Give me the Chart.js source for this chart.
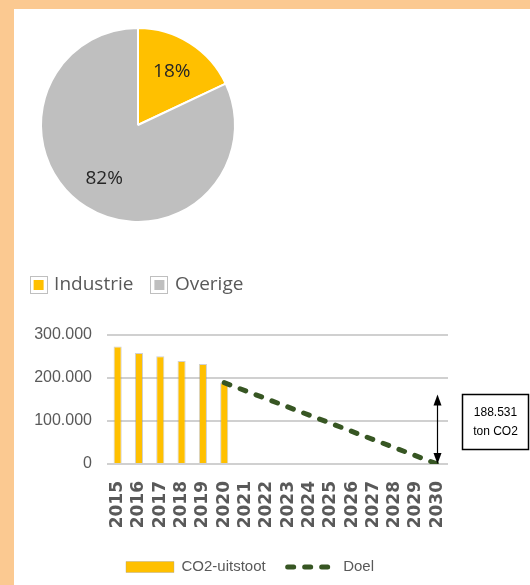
<!DOCTYPE html>
<html>
<head>
<meta charset="utf-8">
<script src="https://cdn.jsdelivr.net/npm/chart.js@4.4.1/dist/chart.umd.min.js"></script>
<style>
  html, body { margin: 0; padding: 0; width: 530px; height: 585px; overflow: hidden; background: #fff; }
  .band { position: absolute; background: #FBC991; }
  #pie { position: absolute; left: 0; top: 0; }
  #bar { position: absolute; left: 14px; top: 310px; }
</style>
</head>
<body>
<div class="band" style="left:0;top:0;width:530px;height:9px"></div>
<div class="band" style="left:0;top:0;width:14px;height:585px"></div>
<canvas id="pie" width="280" height="305"></canvas>
<canvas id="bar" width="516" height="275"></canvas>
<script>
// pie: share of CO2 emissions
var PIE_LABELS = ['Industrie', 'Overige'];
var PIE_SHARE = [18, 82];

// bar + target line
var YEARS = ['2015', '2016', '2017', '2018', '2019', '2020', '2021', '2022',
             '2023', '2024', '2025', '2026', '2027', '2028', '2029', '2030'];
var CO2_UITSTOOT = [272700, 257500, 250000, 238600, 231800, 188531,
                    null, null, null, null, null, null, null, null, null, null];
var DOEL = [null, null, null, null, null, 188531,
            null, null, null, null, null, null, null, null, null, 0];
var SERIES_LABELS = ['CO2-uitstoot', 'Doel'];
var Y_TICKS = [0, 100000, 200000, 300000];

// annotation next to 2030
var ARROW_TOP = 161000;
var NOTE_LINES = ['188.531', 'ton CO2'];

var SANS = '"Liberation Sans", Arial, sans-serif';
var YELLOW = '#FFC000';
var GREY = '#BFBFBF';
var GREEN = '#375623';

Chart.defaults.animation = false;
Chart.defaults.plugins.tooltip.enabled = false;

function fmt(v) {
    return String(v).replace(/\B(?=(\d{3})+(?!\d))/g, '.');
}

// percentage labels inside the slices
var pieLabels = {
    id: 'pieLabels',
    afterDatasetsDraw: function (chart) {
        var ctx = chart.ctx;
        var arcs = chart.getDatasetMeta(0).data;
        ctx.save();
        ctx.font = '19px "Open Sans"';
        ctx.fillStyle = '#262626';
        ctx.textAlign = 'center';
        ctx.textBaseline = 'middle';
        arcs.forEach(function (arc, i) {
            var p = arc.getProps(['x', 'y', 'startAngle', 'endAngle', 'outerRadius']);
            var mid = (p.startAngle + p.endAngle) / 2;
            var r = p.outerRadius * 0.65;
            ctx.fillText(PIE_SHARE[i] + '%', p.x + Math.cos(mid) * r, p.y + Math.sin(mid) * r);
        });
        ctx.restore();
    }
};

// thin grey frame round the legend squares
var legendFrames = {
    id: 'legendFrames',
    afterDraw: function (chart) {
        var lg = chart.legend, ctx = chart.ctx;
        var bw = lg.options.labels.boxWidth, bh = lg.options.labels.boxHeight;
        ctx.save();
        ctx.strokeStyle = '#BFBFBF';
        ctx.lineWidth = 1;
        lg.legendHitBoxes.forEach(function (hb) {
            var top = hb.top + (19 - bh) / 2;
            ctx.strokeRect(Math.round(hb.left) - 2.5, Math.round(top) - 2.5, bw + 5, bh + 5);
        });
        ctx.restore();
    }
};

new Chart(document.getElementById('pie'), {
    type: 'pie',
    data: {
        labels: PIE_LABELS,
        datasets: [{
            data: PIE_SHARE,
            backgroundColor: [YELLOW, GREY],
            borderColor: '#fff',
            borderWidth: 2
        }]
    },
    options: {
        responsive: false,
        radius: 97,
        layout: { padding: { left: 2, right: 6, top: 28, bottom: 0.5 } },
        plugins: {
            legend: {
                position: 'bottom',
                align: 'center',
                title: { display: true, text: '', font: { size: 12 }, padding: { top: 19.1, bottom: 0 } },
                labels: {
                    boxWidth: 12,
                    boxHeight: 12,
                    padding: 20,
                    color: '#595959',
                    font: { family: '"Open Sans"', size: 19 }
                }
            }
        }
    },
    plugins: [pieLabels, legendFrames]
});

// double arrow + text box at the end of the target line
var note = {
    id: 'note',
    afterDraw: function (chart) {
        var ctx = chart.ctx, x = chart.scales.x, y = chart.scales.y;
        var ax = Math.round(x.getPixelForValue(YEARS.length - 1)) + 0.5;
        var yTop = y.getPixelForValue(ARROW_TOP);
        var yBot = y.getPixelForValue(0);
        ctx.save();
        ctx.strokeStyle = '#000';
        ctx.fillStyle = '#000';
        ctx.lineWidth = 1.2;
        ctx.beginPath();
        ctx.moveTo(ax, yTop + 8);
        ctx.lineTo(ax, yBot - 8);
        ctx.stroke();
        ctx.beginPath();
        ctx.moveTo(ax, yTop);
        ctx.lineTo(ax - 4, yTop + 11);
        ctx.lineTo(ax + 4, yTop + 11);
        ctx.closePath();
        ctx.fill();
        ctx.beginPath();
        ctx.moveTo(ax, yBot);
        ctx.lineTo(ax - 4, yBot - 11);
        ctx.lineTo(ax + 4, yBot - 11);
        ctx.closePath();
        ctx.fill();

        var bx = Math.round(ax + 24) + 0.5, by = Math.round(yTop - 1) + 0.5, bw = 66, bh = 55;
        ctx.lineWidth = 1.5;
        ctx.strokeRect(bx, by, bw, bh);
        ctx.font = '12px ' + SANS;
        ctx.textAlign = 'center';
        ctx.textBaseline = 'middle';
        ctx.fillText(NOTE_LINES[0], bx + bw / 2, by + 18);
        ctx.fillText(NOTE_LINES[1], bx + bw / 2, by + 37);
        ctx.restore();
    }
};

new Chart(document.getElementById('bar'), {
    type: 'bar',
    data: {
        labels: YEARS,
        datasets: [{
            label: SERIES_LABELS[0],
            data: CO2_UITSTOOT,
            backgroundColor: YELLOW,
            borderColor: 'rgba(150,150,150,0.45)',
            borderWidth: { left: 1, right: 1, top: 1, bottom: 0 },
            pointStyle: 'rect',
            categoryPercentage: 1,
            barPercentage: 0.38,
            order: 1
        }, {
            type: 'line',
            label: SERIES_LABELS[1],
            data: DOEL,
            borderColor: GREEN,
            backgroundColor: GREEN,
            borderWidth: 5,
            borderDash: [6, 11],
            borderCapStyle: 'round',
            pointStyle: 'line',
            pointRadius: 0,
            pointHoverRadius: 0,
            spanGaps: true,
            order: 0
        }]
    },
    options: {
        responsive: false,
        layout: { padding: { left: 21, right: 65, top: 22, bottom: 0.5 } },
        scales: {
            x: {
                grid: { display: false, drawTicks: false },
                border: { display: false },
                ticks: {
                    autoSkip: false,
                    minRotation: 90,
                    maxRotation: 90,
                    padding: 17,
                    color: '#595959',
                    font: { family: '"DejaVu Sans"', weight: 'bold', size: 17 }
                },
                afterFit: function (s) { s.height = 73.5; }
            },
            y: {
                min: 0,
                max: 300000,
                afterBuildTicks: function (s) {
                    s.ticks = Y_TICKS.map(function (v) { return { value: v }; });
                },
                ticks: {
                    padding: 15,
                    color: '#595959',
                    font: { family: SANS, size: 16 },
                    callback: function (v) { return fmt(v); }
                },
                grid: { color: '#D0D0D0', lineWidth: 2, drawTicks: false },
                border: { display: false },
                afterFit: function (s) { s.width = 72; }
            },
            // empty space on the right so the legend sits where it does in the original
            padR: {
                type: 'linear',
                position: 'right',
                grid: { display: false, drawTicks: false },
                border: { display: false },
                ticks: { display: false },
                afterFit: function (s) { s.width = 17; }
            }
        },
        plugins: {
            legend: {
                position: 'bottom',
                labels: {
                    usePointStyle: true,
                    pointStyleWidth: 48,
                    boxHeight: 11,
                    padding: 22,
                    color: '#595959',
                    font: { family: SANS, size: 15 },
                    sort: function (a, b) { return a.datasetIndex - b.datasetIndex; },
                    generateLabels: function (chart) {
                        var items = Chart.defaults.plugins.legend.labels.generateLabels(chart);
                        items.forEach(function (it) {
                            var ds = chart.data.datasets[it.datasetIndex];
                            if (ds.type === 'line') {
                                it.lineDash = ds.borderDash;
                                it.lineCap = 'round';
                                it.strokeStyle = ds.borderColor;
                                it.lineWidth = ds.borderWidth;
                            }
                        });
                        return items;
                    }
                }
            }
        }
    },
    plugins: [note]
});
</script>
</body>
</html>
